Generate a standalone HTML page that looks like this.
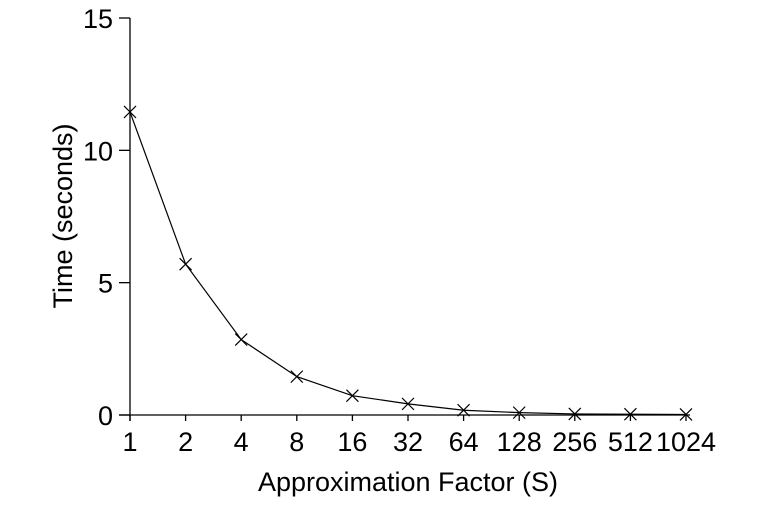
<!DOCTYPE html>
<html><head><meta charset="utf-8"><style>body{margin:0;background:#fff}svg{display:block;font-family:"Liberation Sans",Arial,sans-serif}</style></head>
<body>
<svg id="c" width="760" height="513" viewBox="0 0 760 513"></svg>
<script>
const categories=["1","2","4","8","16","32","64","128","256","512","1024"];
const times=[11.45,5.7,2.85,1.45,0.73,0.42,0.18,0.09,0.04,0.03,0.02];
const yTicks=[0,5,10,15];
const NS="http://www.w3.org/2000/svg";
const svg=document.getElementById('c');
const x0=130,dx=55.6,yb=415,yt=18,ymax=15;
const X=i=>x0+i*dx;
const Y=v=>yb-(v/ymax)*(yb-yt);
function mk(t,a,p){const e=document.createElementNS(NS,t);for(const k in a)e.setAttribute(k,a[k]);(p||svg).appendChild(e);return e;}
const ax=mk('line',{x1:119,y1:yb,x2:690,y2:yb,stroke:'#000','stroke-width':1.3});


const ay=mk('line',{x1:x0,y1:yt,x2:x0,y2:yb+6,stroke:'#000','stroke-width':1.3});


yTicks.forEach(v=>{
 mk('line',{x1:119,y1:Y(v),x2:x0,y2:Y(v),stroke:'#000','stroke-width':1.3});
 const t=mk('text',{x:113,y:Y(v)+10,'text-anchor':'end','font-size':27});t.textContent=v;
 
 
});
categories.forEach((c,i)=>{
 mk('line',{x1:X(i),y1:yb,x2:X(i),y2:yb+6,stroke:'#000','stroke-width':1.3});
 const t=mk('text',{x:X(i),y:yb+36,'text-anchor':'middle','font-size':27});t.textContent=c;
 
 
});
const pl=mk('polyline',{points:times.map((v,i)=>X(i)+','+Y(v)).join(' '),fill:'none',stroke:'#000','stroke-width':1.2});


times.forEach((v,i)=>{
 const g=mk('path',{d:`M${X(i)-6},${Y(v)-6}L${X(i)+6},${Y(v)+6}M${X(i)-6},${Y(v)+6}L${X(i)+6},${Y(v)-6}`,stroke:'#000','stroke-width':1.2});
 
 
});
const xt=mk('text',{x:408,y:491,'text-anchor':'middle','font-size':27});xt.textContent='Approximation Factor (S)';


const yt2=mk('text',{x:72,y:216,'text-anchor':'middle','font-size':27,transform:'rotate(-90 72 216)'});yt2.textContent='Time (seconds)';


</script>
</body></html>
